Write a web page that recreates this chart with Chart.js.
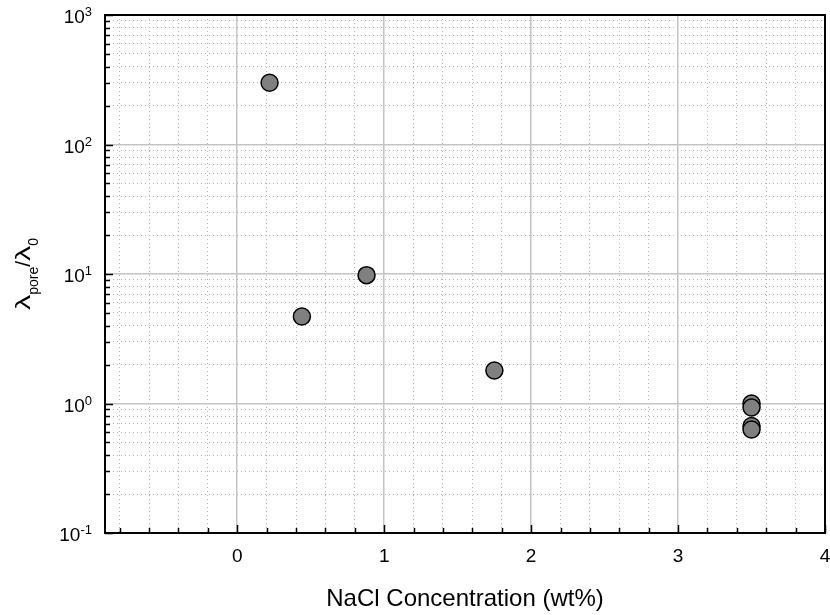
<!DOCTYPE html>
<html>
<head>
<meta charset="utf-8">
<script src="https://cdn.jsdelivr.net/npm/chart.js@4.4.1/dist/chart.umd.min.js"></script>
<style>
  html, body { margin: 0; padding: 0; background: #fff; }
  canvas { display: block; }
</style>
</head>
<body>
<canvas id="chart" width="830" height="615"></canvas>
<script>
// data
const naclConc = [0.22, 0.44, 0.88, 1.75, 3.5, 3.5, 3.5, 3.5];
const lambdaRatio = [300, 4.7, 9.8, 1.8, 1.0, 0.93, 0.67, 0.63];

// axis ticks
const xTickValues = [-0.8, -0.6, -0.4, -0.2, 0, 0.2, 0.4, 0.6, 0.8, 1, 1.2, 1.4, 1.6, 1.8,
    2, 2.2, 2.4, 2.6, 2.8, 3, 3.2, 3.4, 3.6, 3.8, 4];
const xTickLabels = ['0', '1', '2', '3', '4'];
const yDecades = [0.1, 1, 10, 100, 1000];
const yExponents = ['-1', '0', '1', '2', '3'];
const yMinorMult = [2, 3, 4, 5, 6, 7, 8, 9];

const yTickValues = [];
yDecades.forEach((d, i) => {
    yTickValues.push(d);
    if (i < yDecades.length - 1) yMinorMult.forEach(m => yTickValues.push(+(d * m).toPrecision(3)));
});

const FONT = "'Liberation Sans', Arial, Helvetica, sans-serif";

const isWhole = v => Math.abs(v - Math.round(v)) < 1e-9;
const isDecade = v => isWhole(Math.log10(v));
const xMajor = ctx => ctx.tick ? isWhole(ctx.tick.value) : true;
const yMajor = ctx => ctx.tick ? isDecade(ctx.tick.value) : true;

// frame, inward tick marks and the tick / axis labels
const decorations = {
    id: 'decorations',
    beforeDatasetsDraw(chart) {
        const { ctx, chartArea: a, scales: { x, y } } = chart;
        ctx.save();
        ctx.strokeStyle = '#000';
        ctx.lineWidth = 1.5;
        ctx.beginPath();
        xTickValues.forEach(v => {
            const px = Math.round(x.getPixelForValue(v)) + 0.5;
            const len = isWhole(v) ? 8 : 5;
            ctx.moveTo(px, a.bottom);
            ctx.lineTo(px, a.bottom - len);
        });
        yTickValues.forEach(v => {
            const py = Math.round(y.getPixelForValue(v)) + 0.5;
            const len = isDecade(v) ? 8 : 5;
            ctx.moveTo(a.left, py);
            ctx.lineTo(a.left + len, py);
        });
        ctx.stroke();
        ctx.lineWidth = 2;
        ctx.strokeRect(a.left, a.top, a.right - a.left, a.bottom - a.top);
        ctx.restore();
    },
    afterDraw(chart) {
        const { ctx, chartArea: a, scales: { x, y } } = chart;
        ctx.save();
        ctx.fillStyle = '#000';
        ctx.textBaseline = 'alphabetic';

        // x tick labels
        ctx.textAlign = 'center';
        ctx.font = '19px ' + FONT;
        xTickLabels.forEach(t => {
            ctx.fillText(t, x.getPixelForValue(+t), a.bottom + 29);
        });

        // y tick labels: 10 with superscript exponent
        ctx.textAlign = 'left';
        yDecades.forEach((d, i) => {
            const py = y.getPixelForValue(d);
            ctx.font = '13px ' + FONT;
            const supW = ctx.measureText(yExponents[i]).width;
            ctx.font = '19px ' + FONT;
            const baseW = ctx.measureText('10').width;
            const x0 = 92 - supW - baseW;
            ctx.fillText('10', x0, py + 8);
            ctx.font = '13px ' + FONT;
            ctx.fillText(yExponents[i], x0 + baseW, py + 1);
        });

        // x axis title
        ctx.textAlign = 'center';
        ctx.font = '24px ' + FONT;
        ctx.fillText('NaCl Concentration (wt%)', (a.left + a.right) / 2, 606);

        // y axis title: λ_pore / λ_0, rotated (the λ is drawn a little wider)
        const parts = [
            { t: 'λ', size: 21, dy: 0, sx: 1.45 },
            { t: 'pore', size: 14, dy: 8, sx: 1 },
            { t: '/', size: 21, dy: 0, sx: 1 },
            { t: 'λ', size: 21, dy: 0, sx: 1.45 },
            { t: '0', size: 14, dy: 8, sx: 1 }
        ];
        let total = 0;
        parts.forEach(p => {
            ctx.font = p.size + 'px ' + FONT;
            p.w = ctx.measureText(p.t).width * p.sx;
            total += p.w;
        });
        ctx.translate(30, (a.top + a.bottom) / 2);
        ctx.rotate(-Math.PI / 2);
        ctx.textAlign = 'left';
        let cx = -total / 2;
        parts.forEach(p => {
            ctx.font = p.size + 'px ' + FONT;
            ctx.save();
            ctx.translate(cx, p.dy);
            ctx.scale(p.sx, 1);
            ctx.fillText(p.t, 0, 0);
            ctx.restore();
            cx += p.w;
        });
        ctx.restore();
    }
};

new Chart(document.getElementById('chart'), {
    type: 'scatter',
    data: {
        datasets: [{
            data: naclConc.map((v, i) => ({ x: v, y: lambdaRatio[i] })),
            backgroundColor: '#808080',
            borderColor: '#000',
            borderWidth: 1.5,
            pointRadius: 8.5,
            pointHoverRadius: 8.5
        }]
    },
    options: {
        responsive: false,
        animation: false,
        devicePixelRatio: 1,
        layout: { autoPadding: false, padding: { top: 15, right: 5, left: 0, bottom: 0 } },
        plugins: {
            legend: { display: false },
            tooltip: { enabled: false }
        },
        scales: {
            x: {
                type: 'linear',
                min: -0.9,
                max: 4,
                afterBuildTicks: s => { s.ticks = xTickValues.map(v => ({ value: v })); },
                afterFit: s => { s.height = 82; },
                ticks: { display: false },
                grid: {
                    drawTicks: false,
                    color: ctx => xMajor(ctx) ? '#c4c4c4' : '#b4b4b4',
                    lineWidth: ctx => xMajor(ctx) ? 1.5 : 1
                },
                border: { display: false, dash: ctx => xMajor(ctx) ? [] : [1, 3] }
            },
            y: {
                type: 'logarithmic',
                min: 0.1,
                max: 1000,
                afterBuildTicks: s => { s.ticks = yTickValues.map(v => ({ value: v })); },
                afterFit: s => { s.width = 105; },
                ticks: { display: false },
                grid: {
                    drawTicks: false,
                    color: ctx => yMajor(ctx) ? '#c4c4c4' : '#b4b4b4',
                    lineWidth: ctx => yMajor(ctx) ? 1.5 : 1
                },
                border: { display: false, dash: ctx => yMajor(ctx) ? [] : [1, 3] }
            }
        }
    },
    plugins: [decorations]
});
</script>
</body>
</html>
